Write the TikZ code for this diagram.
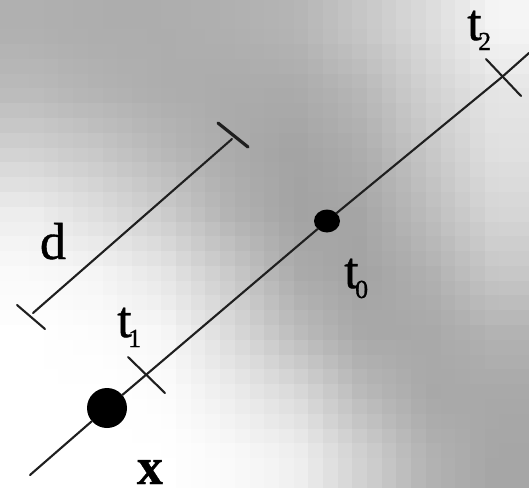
\documentclass[tikz,border=0pt]{standalone}
\usepackage{fontspec}
\setmainfont{Liberation Serif}
\newfontfamily\labfont{Liberation Serif}[FakeBold=0.8]
\usetikzlibrary{shapes.geometric}
\newcommand{\tsub}[1]{t\kern-3.5pt\raisebox{-10pt}{\fontsize{26}{26}\selectfont #1}}
\tikzset{
  stroke/.style={line width=2.1pt, draw=black!88, line cap=round},
  lab/.style={inner sep=0pt, font=\labfont\fontsize{52}{52}\selectfont},
}
\def\Garr{{0.69,0.68,0.68,0.69,0.71,0.78,0.86,0.96,
0.73,0.70,0.68,0.67,0.67,0.72,0.82,0.90,
0.82,0.78,0.72,0.67,0.64,0.68,0.78,0.88,
0.93,0.87,0.80,0.70,0.64,0.65,0.74,0.84,
0.98,0.96,0.90,0.79,0.67,0.64,0.69,0.78,
1.0,0.99,0.97,0.86,0.74,0.66,0.66,0.70,
1.0,1.0,0.99,0.93,0.86,0.73,0.66,0.66,
1.0,1.0,1.0,0.98,0.94,0.82,0.70,0.65}}
\begin{document}
\begin{tikzpicture}[x=1pt,y=-1pt]
\useasboundingbox (0,0) rectangle (529,488);
% background grey field
\foreach \i in {0,...,35}{
  \foreach \j in {0,...,32}{
    \pgfmathsetmacro\px{(\i+0.5)*14.6944}
    \pgfmathsetmacro\py{(\j+0.5)*14.7879}
    \pgfmathsetmacro\gx{min(max((\px-33)/66,0),6.999)}
    \pgfmathsetmacro\gy{min(max((\py-30)/61,0),6.999)}
    \pgfmathtruncatemacro\ix{\gx}
    \pgfmathtruncatemacro\iy{\gy}
    \pgfmathsetmacro\fx{\gx-\ix}
    \pgfmathsetmacro\fy{\gy-\iy}
    \pgfmathtruncatemacro\kA{\iy*8+\ix}
    \pgfmathtruncatemacro\kB{\kA+1}
    \pgfmathtruncatemacro\kC{\kA+8}
    \pgfmathtruncatemacro\kD{\kA+9}
    \pgfmathsetmacro\va{\Garr[\kA]}
    \pgfmathsetmacro\vb{\Garr[\kB]}
    \pgfmathsetmacro\vc{\Garr[\kC]}
    \pgfmathsetmacro\vd{\Garr[\kD]}
    \pgfmathsetmacro\v{min(1,(1-\fx)*(1-\fy)*\va+\fx*(1-\fy)*\vb+(1-\fx)*\fy*\vc+\fx*\fy*\vd)}
    \definecolor{cellc}{gray}{\v}
    \fill[cellc] (\i*14.6944-0.3,\j*14.7879-0.3) rectangle ++(15.4,15.4);
  }
}
% main line with points
\coordinate (A) at (30,475);
\coordinate (B) at (529,53);
\coordinate (C2) at (502,77);
\node[circle, fill=black, minimum size=40pt, inner sep=0pt] (X) at (107,408) {};
\node[ellipse, fill=black, minimum width=26pt, minimum height=23pt, inner sep=0pt] (T0) at (327,221) {};
\draw[stroke] (A) -- (X) -- (T0) -- (C2) -- (B);
% cross ticks
\coordinate (T1a) at (128,357);
\coordinate (T1b) at (165,393);
\coordinate (T2a) at (486,59);
\coordinate (T2b) at (521,96);
\draw[stroke] (T1a) -- (T1b);
\draw[stroke] (T2a) -- (T2b);
% d bar
\coordinate (D1) at (33,313);
\coordinate (D2) at (232,139);
\coordinate (D1a) at (17,305);
\coordinate (D1b) at (45,329);
\coordinate (D2a) at (218,123);
\coordinate (D2b) at (248,147);
\draw[stroke] (D1) -- (D2);
\draw[stroke] (D1a) -- (D1b);
\draw[stroke, line width=3.2pt] (D2a) -- (D2b);
% labels
\node[lab, anchor=base] (dl) at (53,259) {d};
\node[lab, anchor=base] (xl) at (150,484) {\bfseries x};
\node[lab, anchor=base west] (t1l) at (117,337) {\tsub{1}};
\node[lab, anchor=base west] (t0l) at (344,288) {\tsub{0}};
\node[lab, anchor=base west] (t2l) at (467,40) {\tsub{2}};
\end{tikzpicture}
\end{document}
